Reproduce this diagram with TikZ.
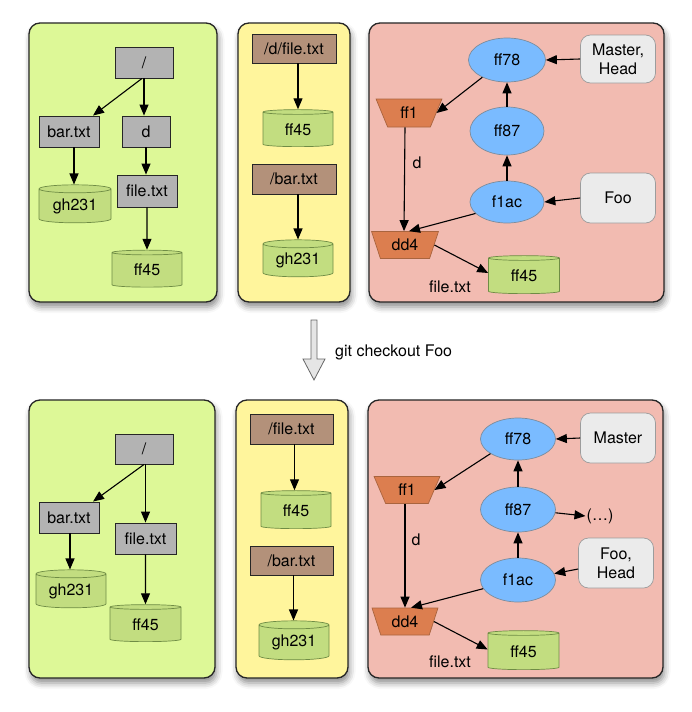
\documentclass[tikz,border=0pt]{standalone}
\usepackage{fontspec}
\setmainfont{TeX Gyre Heros}
\usetikzlibrary{shapes.geometric,arrows.meta,calc,shadows.blur}

\definecolor{panelgreen}{HTML}{DDF897}
\definecolor{panelyellow}{HTML}{FFF59C}
\definecolor{panelred}{HTML}{F2BBB1}
\definecolor{dirgray}{HTML}{B3B3B3}
\definecolor{pathbrown}{HTML}{B3917A}
\definecolor{blobgreen}{HTML}{C2DD80}
\definecolor{blobedge}{HTML}{6F8C45}
\definecolor{commitblue}{HTML}{7ABBFF}
\definecolor{commitedge}{HTML}{7D8C9C}
\definecolor{treeorange}{HTML}{DC7E4F}
\definecolor{treeedge}{HTML}{A9643E}
\definecolor{refgray}{HTML}{EBEBEB}
\definecolor{refedge}{HTML}{9C9C9C}

\tikzset{
  every node/.style={font=\fontsize{16}{19}\selectfont, inner sep=0pt},
  panel/.style={draw=black!85, line width=1.3pt, rounded corners=11pt,
    blur shadow={shadow xshift=1.5pt, shadow yshift=-5pt,
      shadow blur radius=6pt, shadow opacity=45}},
  dirbox/.style={rectangle, draw=black!85, line width=0.9pt, fill=dirgray},
  pathbox/.style={rectangle, draw=black!85, line width=0.9pt, fill=pathbrown},
  blob/.style={cylinder, shape border rotate=90, shape aspect=0.18,
    draw=blobedge, line width=0.7pt, fill=blobgreen},
  commit/.style={ellipse, draw=commitedge, line width=0.7pt, fill=commitblue},
  tree/.style={trapezium, trapezium left angle=112, trapezium right angle=112,
    trapezium stretches=true, draw=treeedge, line width=0.7pt, fill=treeorange},
  refbox/.style={rectangle, rounded corners=10pt, draw=refedge, line width=0.7pt,
    fill=refgray, align=center},
  link/.style={-{Triangle[length=11pt,width=9pt]}, line width=1.1pt, black},
  plain/.style={text=black}
}

\begin{document}
\begin{tikzpicture}[x=1pt, y=-1pt]
\useasboundingbox (0,0) rectangle (691,712);

% ---------- panels ----------
\draw[panel, fill=panelgreen]  (29,23)  rectangle (217,302);
\draw[panel, fill=panelyellow] (238,23) rectangle (350,302);
\draw[panel, fill=panelred]    (369,23) rectangle (664,302);
\draw[panel, fill=panelgreen]  (29,400) rectangle (215,678);
\draw[panel, fill=panelyellow] (236,400) rectangle (348,678);
\draw[panel, fill=panelred]    (368,400) rectangle (663,678);

% ---------- upper working tree ----------
\node[dirbox, minimum width=58, minimum height=31] (t_root) at (144,62.5) {/};
\node[dirbox, minimum width=60, minimum height=31] (t_bar)  at (69,131.5) {bar.txt};
\node[dirbox, minimum width=48, minimum height=31] (t_d)    at (146,131.5) {d};
\node[dirbox, minimum width=60, minimum height=32] (t_file) at (147,191) {file.txt};
\node[blob, minimum width=72, minimum height=38]   (t_gh)   at (75,206) {gh231};
\node[blob, minimum width=70, minimum height=37]   (t_ff)   at (147,270) {ff45};

\draw[link] ($(t_root.south)+(-2,0)$) -- ($(t_bar.north)+(24,0)$);
\draw[link] (t_root.south) -- (t_root.south |- t_d.north);
\draw[link] (t_d.south) -- (t_d.south |- t_file.north);
\draw[link] ($(t_bar.south)+(5,0)$) -- ($(t_bar.south |- t_gh.north)+(5,0)$);
\draw[link] (t_file.south) -- (t_ff.north);

% ---------- upper index ----------
\node[pathbox, minimum width=84, minimum height=29] (y_file) at (294,48.5) {/d/file.txt};
\node[blob, minimum width=70, minimum height=37]    (y_ff)   at (298,129.5) {ff45};
\node[pathbox, minimum width=84, minimum height=30] (y_bar)  at (294,179) {/bar.txt};
\node[blob, minimum width=70, minimum height=37]    (y_gh)   at (298,260.5) {gh231};

\draw[link] (y_file.south -| y_ff.north) -- (y_ff.north);
\draw[link] (y_bar.south -| y_gh.north) -- (y_gh.north);

% ---------- upper repository ----------
\node[commit, minimum width=77, minimum height=44] (r_ff78) at (507,60) {ff78};
\node[refbox, minimum width=75, minimum height=48] (r_mh)   at (618,59) {Master,\\Head};
\node[tree, minimum width=66, minimum height=28]   (r_ff1)  at (409,113) {ff1};
\node[commit, minimum width=74, minimum height=48] (r_ff87) at (507,131) {ff87};
\node[commit, minimum width=74, minimum height=42] (r_f1ac) at (507,202) {f1ac};
\node[refbox, minimum width=75, minimum height=50] (r_foo)  at (618,198) {Foo};
\node[tree, minimum width=67, minimum height=27]   (r_dd4)  at (405,245) {dd4};
\node[blob, minimum width=71, minimum height=38]   (r_ff45) at (524,276) {ff45};
\node[plain] (r_d)    at (417,163) {d};
\node[plain] (r_name) at (450,287) {file.txt};

\draw[link] (r_mh.west) -- (r_ff78.east);
\draw[link] (r_ff78.215) -- (r_ff1.east);
\draw[link] (r_ff87.north) -- (r_ff78.south);
\draw[link] (r_f1ac.north) -- (r_ff87.south);
\draw[link] (r_foo.west) -- (r_f1ac.east);
\draw[link] (r_f1ac.200) -- ($(r_dd4.north)+(4,0)$);
\draw[link] (r_ff1.south -| r_dd4.north) -- ($(r_dd4.north)+(-1,0)$);
\draw[link] (r_dd4.east) -- ($(r_ff45.west)+(0,-3)$);

% ---------- checkout step ----------
\coordinate (c_top) at (314,320);
\draw[draw=black!60, line width=0.8pt, fill=black!10]
  (311,320) -- (317,320) -- (317,359) -- (325,359) -- (314,380)
  -- (303,359) -- (311,359) -- cycle;
\node[plain, anchor=west] (c_label) at (335,352) {git checkout Foo};

% ---------- lower working tree ----------
\node[dirbox, minimum width=58, minimum height=30] (b_root) at (144,449) {/};
\node[dirbox, minimum width=60, minimum height=31] (b_bar)  at (69,517.5) {bar.txt};
\node[dirbox, minimum width=61, minimum height=31] (b_file) at (145.5,538.5) {file.txt};
\node[blob, minimum width=70, minimum height=38]   (b_gh)   at (71,591) {gh231};
\node[blob, minimum width=71, minimum height=37]   (b_ff)   at (145.5,624.5) {ff45};

\draw[link] (b_root.south) -- ($(b_bar.north)+(24,0)$);
\draw[link] (b_root.south -| b_file.north) -- (b_file.north);
\draw[link] ($(b_bar.south)+(1,0)$) -- ($(b_bar.south |- b_gh.north)+(1,0)$);
\draw[link] (b_file.south) -- (b_ff.north);

% ---------- lower index ----------
\node[pathbox, minimum width=83, minimum height=30] (by_file) at (291.5,429) {/file.txt};
\node[blob, minimum width=70, minimum height=38]    (by_ff)   at (296,511) {ff45};
\node[pathbox, minimum width=83, minimum height=29] (by_bar)  at (291.5,560.5) {/bar.txt};
\node[blob, minimum width=70, minimum height=39]    (by_gh)   at (294,642.5) {gh231};

\draw[link] ($(by_file.south)+(3,0)$) -- ($(by_file.south |- by_ff.north)+(3,0)$);
\draw[link] ($(by_bar.south)+(2,0)$) -- ($(by_bar.south |- by_gh.north)+(2,0)$);

% ---------- lower repository ----------
\node[commit, minimum width=75, minimum height=42] (br_ff78)   at (518,439) {ff78};
\node[refbox, minimum width=75, minimum height=50] (br_master) at (618,438) {Master};
\node[tree, minimum width=66, minimum height=27]   (br_ff1)    at (407,490) {ff1};
\node[commit, minimum width=75, minimum height=45] (br_ff87)   at (518,509.5) {ff87};
\node[plain] (br_etc) at (600,516) {(…)};
\node[refbox, minimum width=75, minimum height=50] (br_foo)    at (616,563) {Foo,\\Head};
\node[commit, minimum width=75, minimum height=44] (br_f1ac)   at (518,580) {f1ac};
\node[tree, minimum width=66, minimum height=27]   (br_dd4)    at (405,621.5) {dd4};
\node[blob, minimum width=71, minimum height=39]   (br_ff45)   at (523.5,651.5) {ff45};
\node[plain] (br_d)    at (416,540) {d};
\node[plain] (br_name) at (450,662) {file.txt};

\draw[link] (br_master.west) -- (br_ff78.east);
\draw[link] (br_ff78.208) -- (br_ff1.east);
\draw[link] (br_ff87.north) -- (br_ff78.south);
\draw[link] (br_f1ac.north) -- (br_ff87.south);
\draw[link] ($(br_foo.west)+(0,6)$) -- (br_f1ac.10);
\draw[link] (br_ff87.-5) -- ($(br_etc.west)+(-1,0)$);
\draw[link] (br_f1ac.194) -- ($(br_dd4.north)+(6,0)$);
\draw[link] (br_ff1.south -| br_dd4.north) -- (br_dd4.north);
\draw[link] (br_dd4.east) -- ($(br_ff45.west)+(0,-2)$);
\end{tikzpicture}
\end{document}
